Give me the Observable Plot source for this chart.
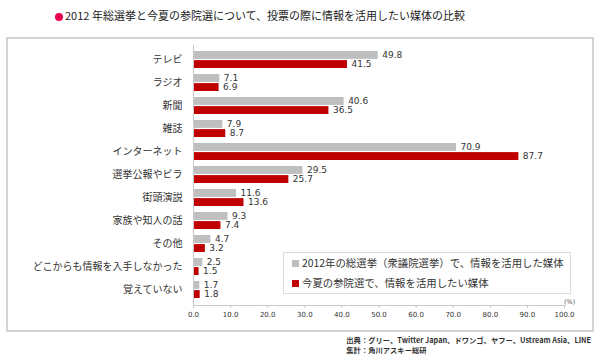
<!DOCTYPE html>
<html>
<head>
<meta charset="utf-8">
<script src="https://cdn.jsdelivr.net/npm/d3@7"></script>
<script src="https://cdn.jsdelivr.net/npm/@observablehq/plot@0.6"></script>
<style>
  html, body { margin: 0; padding: 0; background: #fff; }
  #root { position: relative; width: 600px; height: 362px; overflow: hidden; font-family: "Noto Sans CJK JP", "Noto Sans", sans-serif; color: #333; }
  #title { position: absolute; left: 55px; top: 7px; font-size: 11px; line-height: 16px; white-space: nowrap; color: #222; }
  #title .dot { display: inline-block; width: 8px; height: 8px; border-radius: 50%; background: #e8004f; margin-right: 2px; vertical-align: -0.5px; }
  #panel { position: absolute; left: 6px; top: 37px; width: 584px; height: 291px; border: 2px solid #d2d2d2; box-sizing: content-box; }
  #chart { position: absolute; left: 0; top: 0; }
  #legend { position: absolute; left: 283px; top: 252px; width: 286px; height: 40px; border: 1px solid #dcdcdc; background: #fff; font-size: 10.4px; color: #333; }
  #legend .item { position: absolute; left: 8px; white-space: nowrap; line-height: 12px; }
  #legend .sw { display: inline-block; width: 7px; height: 7px; margin-right: 3px; vertical-align: 0px; }
  #pct { position: absolute; left: 564px; top: 298px; font-size: 6.5px; color: #555; font-family: "DejaVu Sans", sans-serif; }
  #caption { position: absolute; right: 9px; top: 335px; font-size: 7.3px; line-height: 10px; font-weight: bold; color: #333; white-space: nowrap; text-align: left; }
</style>
</head>
<body>
<div id="root">
  <div id="title"><span class="dot"></span>2012 年総選挙と今夏の参院選について、投票の際に情報を活用したい媒体の比較</div>
  <div id="panel"></div>
  <div id="chart"></div>
  <div id="legend">
    <div class="item" style="top:4px"><span class="sw" style="background:#bfbfbf"></span>2012年の総選挙（衆議院選挙）で、情報を活用した媒体</div>
    <div class="item" style="top:24px"><span class="sw" style="background:#c00000"></span>今夏の参院選で、情報を活用したい媒体</div>
  </div>
  <div id="pct">(%)</div>
  <div id="caption">出典：グリー、Twitter Japan、ドワンゴ、ヤフー、Ustream Asia、LINE<br>集計：角川アスキー総研</div>
</div>
<script>
const categories = ["テレビ","ラジオ","新聞","雑誌","インターネット","選挙公報やビラ","街頭演説","家族や知人の話","その他","どこからも情報を入手しなかった","覚えていない"];
const values2012 = [49.8, 7.1, 40.6, 7.9, 70.9, 29.5, 11.6, 9.3, 4.7, 2.5, 1.7];
const valuesSummer = [41.5, 6.9, 36.5, 8.7, 87.7, 25.7, 13.6, 7.4, 3.2, 1.5, 1.8];
const xTicks = [0, 10, 20, 30, 40, 50, 60, 70, 80, 90, 100];

const d2012 = categories.map((c, i) => ({category: c, value: values2012[i]}));
const dSummer = categories.map((c, i) => ({category: c, value: valuesSummer[i]}));

const chart = Plot.plot({
  width: 600,
  height: 362,
  marginLeft: 193,
  marginRight: 36,
  marginTop: 45,
  marginBottom: 57,
  style: {background: "transparent", fontFamily: "Noto Sans CJK JP, sans-serif"},
  x: {domain: [0, 100]},
  y: {domain: categories, paddingInner: 0.256, paddingOuter: 0.1, label: null},
  marks: [
    Plot.barX(d2012, {x: "value", y: "category", fill: "#bfbfbf", insetBottom: 9.1}),
    Plot.barX(dSummer, {x: "value", y: "category", fill: "#c00000", insetTop: 9.1}),
    Plot.text(d2012, {x: "value", y: "category", text: d => d.value.toFixed(1), dx: 4, dy: -4.4, textAnchor: "start", fontSize: 9, fill: "#333", fontFamily: "DejaVu Sans, sans-serif"}),
    Plot.text(dSummer, {x: "value", y: "category", text: d => d.value.toFixed(1), dx: 4, dy: 4.6, textAnchor: "start", fontSize: 9, fill: "#333", fontFamily: "DejaVu Sans, sans-serif"}),
    Plot.ruleX([0], {stroke: "#c8c8c8"}),
    Plot.frame({anchor: "bottom", stroke: "#c8c8c8"}),
    Plot.axisY({tickSize: 0, tickPadding: 11, fontSize: 10, fill: "#333", label: null}),
    Plot.axisX({ticks: xTicks, tickFormat: d => d.toFixed(1), tickSize: 3, tickPadding: 4, stroke: "#c8c8c8", fill: "#333", fontSize: 7, fontFamily: "DejaVu Sans, sans-serif", label: null})
  ]
});
document.getElementById("chart").appendChild(chart);
</script>
</body>
</html>
